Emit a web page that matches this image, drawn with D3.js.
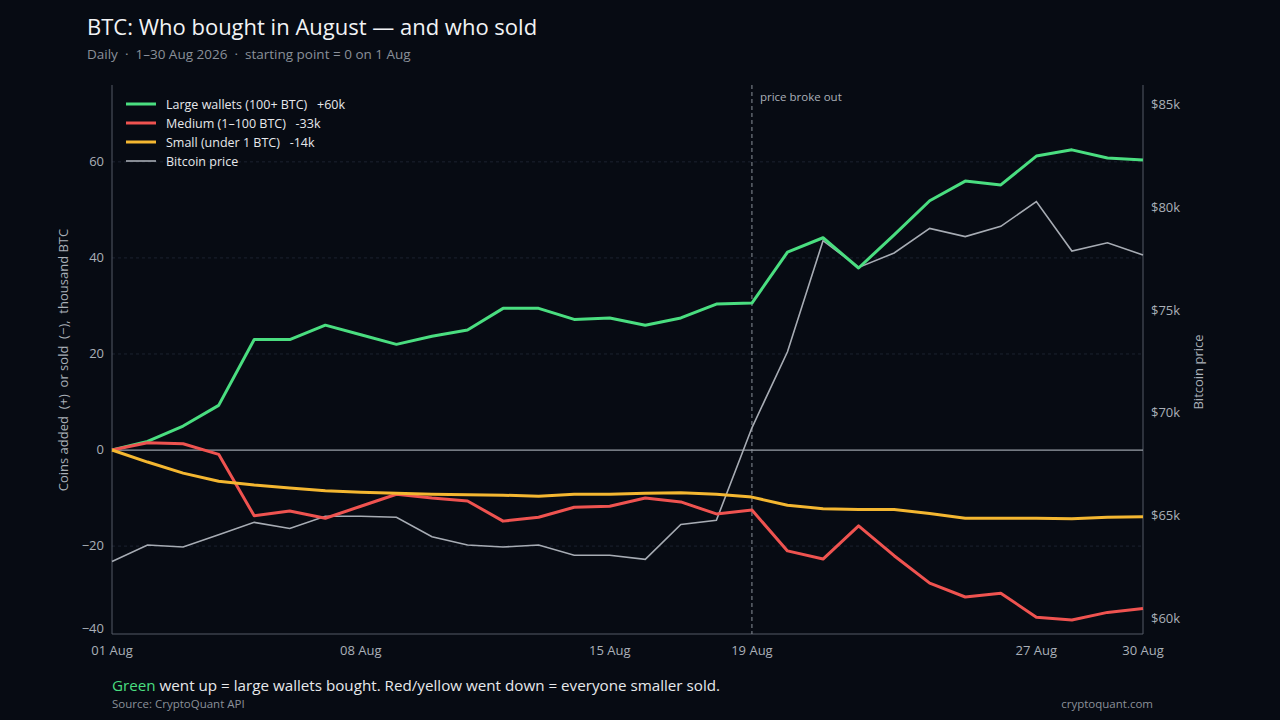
<!DOCTYPE html>
<html><head><meta charset="utf-8">
<script src="https://cdn.jsdelivr.net/npm/d3@7"></script>
<style>body{margin:0;background:#070b13;}svg{display:block;font-family:"Open Sans",sans-serif;}</style>
</head><body><svg id="c" width="1280" height="720"></svg>
<script>
const days = d3.range(1,31);
const large = [0,1.8,5,9.3,23,23,26,24,22,23.7,25,29.5,29.5,27.2,27.5,26,27.5,30.4,30.6,41.2,44.2,37.9,44.8,51.9,56,55.2,61.2,62.5,60.8,60.4];
const medium = [0,1.5,1.3,-0.9,-13.7,-12.7,-14.2,-11.7,-9.2,-10,-10.6,-14.8,-14,-11.9,-11.7,-10,-10.8,-13.3,-12.5,-21,-22.7,-15.8,-22,-27.7,-30.6,-29.8,-34.8,-35.4,-33.8,-33];
const small = [0,-2.5,-4.8,-6.5,-7.3,-7.9,-8.5,-8.8,-9,-9.2,-9.3,-9.4,-9.6,-9.2,-9.2,-9.0,-8.9,-9.2,-9.8,-11.5,-12.2,-12.4,-12.4,-13.2,-14.2,-14.2,-14.2,-14.3,-14.0,-13.9];
const price = [62.8,63.6,63.5,64.1,64.7,64.4,65.0,65.0,64.95,64.0,63.6,63.5,63.6,63.1,63.1,62.9,64.6,64.8,69.3,73.0,78.4,77.1,77.8,79.0,78.6,79.1,80.3,77.9,78.3,77.7];
const xTicks = [1,8,15,19,27,30];
const leftTicks = [60,40,20,0,-20,-40];
const rightTicks = [60,65,70,75,80,85];
const series = [
 {name:"Large wallets (100+ BTC)   +60k", values:large, color:"#4ade80"},
 {name:"Medium (1–100 BTC)   -33k", values:medium, color:"#ef5350"},
 {name:"Small (under 1 BTC)   -14k", values:small, color:"#f4b731"}
];
const svg = d3.select("#c");
const L=112,R=1143,T=85,B=634;
const x = d3.scaleLinear().domain([1,30]).range([L,R]);
const y = d3.scaleLinear().domain([-38.3,76]).range([B,T]);
const y2 = d3.scaleLinear().domain([60,85]).range([619,105]);
svg.append("g").selectAll("line").data(leftTicks.filter(d=>d!==0&&d!==-40)).join("line")
 .attr("x1",L).attr("x2",R).attr("y1",d=>y(d)).attr("y2",d=>y(d)).attr("stroke","#1c2230").attr("stroke-dasharray","3,3");
svg.append("line").attr("x1",L).attr("x2",L).attr("y1",T).attr("y2",B).attr("stroke","#555b66");
svg.append("line").attr("x1",R).attr("x2",R).attr("y1",T).attr("y2",B).attr("stroke","#555b66");
svg.append("line").attr("x1",L).attr("x2",R).attr("y1",B).attr("y2",B).attr("stroke","#555b66");
svg.append("line").attr("x1",L).attr("x2",R).attr("y1",y(0)).attr("y2",y(0)).attr("stroke","#9aa0a8").attr("stroke-width",1.2);
const lg = svg.append("g").attr("fill","#aab0b8").attr("font-size",13);
leftTicks.forEach(v=>{const yy = v===-40? y(-38.3)-5 : y(v);
 lg.append("text").attr("x",L-8).attr("y",yy+4).attr("text-anchor","end").text(v===0?"0":(v<0?"−"+(-v):v));});
const rg = svg.append("g").attr("fill","#aab0b8").attr("font-size",13);
rightTicks.forEach(v=>{rg.append("text").attr("x",R+8).attr("y",y2(v)+4).text("$"+v+"k");});
const xg = svg.append("g").attr("fill","#aab0b8").attr("font-size",13);
xTicks.forEach(d=>{xg.append("text").attr("x",x(d)).attr("y",655).attr("text-anchor","middle").text(String(d).padStart(2,"0")+" Aug");});
svg.append("text").attr("transform","translate(68,360) rotate(-90)").attr("text-anchor","middle").attr("fill","#aab0b8").attr("font-size",13).attr("xml:space","preserve").text("Coins added  (+)  or sold  (−),  thousand BTC");
svg.append("text").attr("transform","translate(1203,372) rotate(-90)").attr("text-anchor","middle").attr("fill","#aab0b8").attr("font-size",13).text("Bitcoin price");
svg.append("line").attr("x1",x(19)).attr("x2",x(19)).attr("y1",T).attr("y2",B).attr("stroke","#8a9099").attr("stroke-dasharray","4,3");
svg.append("text").attr("x",x(19)+8).attr("y",101).attr("fill","#aab0b8").attr("font-size",11.5).text("price broke out");
const line = d3.line().x((d,i)=>x(days[i]));
svg.append("path").attr("d",line.y(d=>y2(d))(price)).attr("fill","none").attr("stroke","#a7acb4").attr("stroke-width",1.6);
series.forEach(s=>{svg.append("path").attr("d",d3.line().x((d,i)=>x(days[i])).y(d=>y(d))(s.values)).attr("fill","none").attr("stroke",s.color).attr("stroke-width",3).attr("stroke-linejoin","round");});
const leg = [...series,{name:"Bitcoin price",color:"#a7acb4",w:1.6}];
leg.forEach((s,i)=>{const yy=104+i*19;
 svg.append("line").attr("x1",126).attr("x2",156).attr("y1",yy).attr("y2",yy).attr("stroke",s.color).attr("stroke-width",s.w||3);
 svg.append("text").attr("x",166).attr("y",yy+4.5).attr("fill","#e6e8eb").attr("font-size",12.5).attr("xml:space","preserve").text(s.name);});
svg.append("text").attr("x",87).attr("y",35).attr("fill","#f2f3f5").attr("font-size",22).text("BTC: Who bought in August — and who sold");
svg.append("text").attr("x",87).attr("y",59).attr("fill","#8a9099").attr("font-size",13.5).attr("xml:space","preserve").text("Daily  ·  1–30 Aug 2026  ·  starting point = 0 on 1 Aug");
const f = svg.append("text").attr("x",112).attr("y",691).attr("font-size",15.2).attr("fill","#e6e8eb");
f.append("tspan").attr("fill","#4ade80").text("Green");
f.append("tspan").text(" went up = large wallets bought. Red/yellow went down = everyone smaller sold.");
svg.append("text").attr("x",112).attr("y",708).attr("fill","#8a9099").attr("font-size",11.5).text("Source: CryptoQuant API");
svg.append("text").attr("x",1153).attr("y",708).attr("text-anchor","end").attr("fill","#8a9099").attr("font-size",11.5).text("cryptoquant.com");
</script></body></html>
